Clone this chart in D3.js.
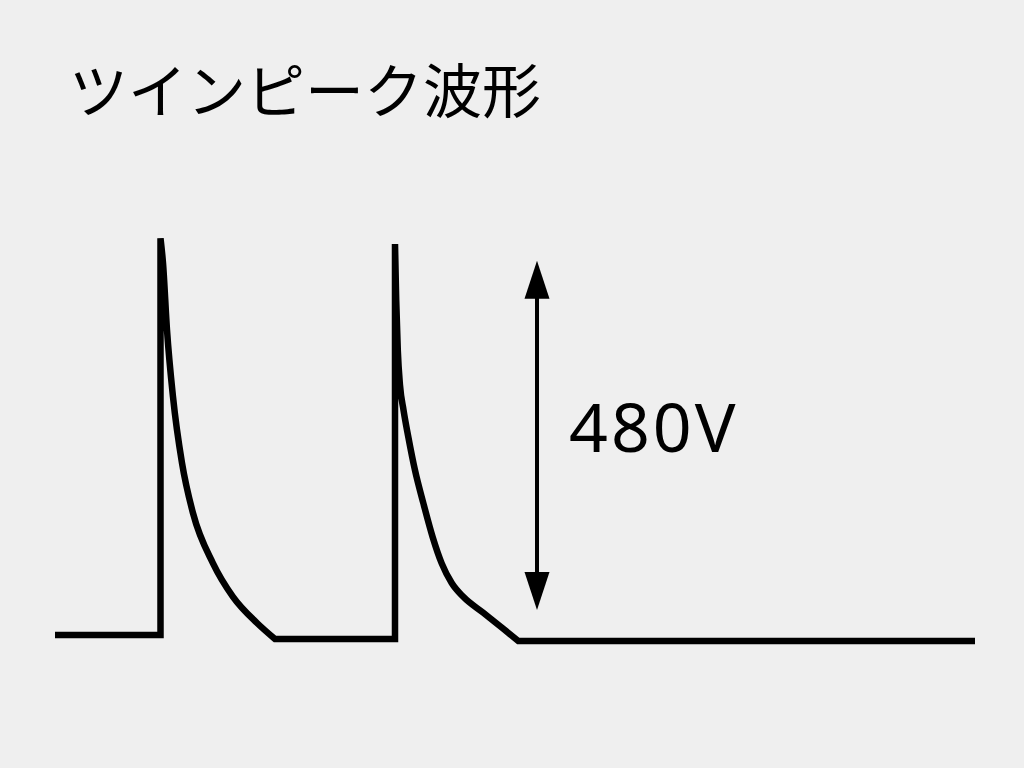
<!DOCTYPE html>
<html>
<head>
<meta charset="utf-8">
<script src="https://cdn.jsdelivr.net/npm/d3@7"></script>
<style>
  html, body { margin: 0; padding: 0; background: #efefef; }
  svg { display: block; }
</style>
</head>
<body>
<div id="chart"></div>
<script>
// waveform data: time (arbitrary units) and voltage (V)
var leadT  = [0, 10.55, 10.55];
var leadV  = [5.5, 5.5, 551];
var peak1T = [10.55, 10.8, 11.2, 11.8, 12.7, 13.8, 15.8, 17.8, 20.2, 22.0];
var peak1V = [551, 517, 425, 333, 242, 173, 104, 58, 22, 0];
var gapT   = [22.0, 34.0, 34.0];
var gapV   = [0, 0, 543];
var peak2T = [34.0, 34.12, 34.28, 34.5, 34.85, 35.33, 36.0, 36.83, 37.77, 38.67, 39.67, 40.83, 42.83, 44.83, 46.33];
var peak2V = [543, 466, 397, 349, 315, 278, 232, 187, 140, 104, 77, 58, 36, 14, -2.75];
var tailT  = [46.33, 92];
var tailV  = [-2.75, -2.75];

// amplitude marker
var arrowT = 48.2;
var arrowV = [40, 520];

var title = "ツインピーク波形";

var svgWidth = 1024;
var svgHeight = 768;

var svg = d3.select("#chart")
  .append("svg")
  .attr("width", svgWidth)
  .attr("height", svgHeight);

svg.append("rect")
  .attr("width", svgWidth)
  .attr("height", svgHeight)
  .attr("fill", "#efefef");

var xScale = d3.scaleLinear().domain([0, 92]).range([55, 975]);
var yScale = d3.scaleLinear().domain([0, 550]).range([639, 239]);

function zip(ts, vs) {
  return ts.map(function(t, i) { return [t, vs[i]]; });
}

var straight = d3.line()
  .x(d => xScale(d[0]))
  .y(d => yScale(d[1]))
  .curve(d3.curveLinear);

var smooth = d3.line()
  .x(d => xScale(d[0]))
  .y(d => yScale(d[1]))
  .curve(d3.curveMonotoneX);

// join segments into one path so the corners get proper joins
var segments = [
  straight(zip(leadT, leadV)),
  smooth(zip(peak1T, peak1V)),
  straight(zip(gapT, gapV)),
  smooth(zip(peak2T, peak2V)),
  straight(zip(tailT, tailV))
];
var d = segments.map(function(s, i) {
  return i === 0 ? s : s.replace(/^M[^A-Za-z]*/, "");
}).join("");

svg.append("path")
  .attr("d", d)
  .attr("fill", "none")
  .attr("stroke", "#000")
  .attr("stroke-width", 6.5)
  .attr("stroke-linejoin", "miter");

// double arrow
var ax = xScale(arrowT);
var yTop = yScale(arrowV[1]);
var yBot = yScale(arrowV[0]);
var headLen = 38, headHalf = 12.5;

svg.append("line")
  .attr("x1", ax).attr("x2", ax)
  .attr("y1", yTop + headLen - 2)
  .attr("y2", yBot - headLen + 2)
  .attr("stroke", "#000")
  .attr("stroke-width", 4);

svg.append("path")
  .attr("d", `M${ax},${yTop}L${ax + headHalf},${yTop + headLen}L${ax - headHalf},${yTop + headLen}Z`)
  .attr("fill", "#000");

svg.append("path")
  .attr("d", `M${ax},${yBot}L${ax + headHalf},${yBot - headLen}L${ax - headHalf},${yBot - headLen}Z`)
  .attr("fill", "#000");

svg.append("text")
  .attr("x", ax + 32)
  .attr("y", (yTop + yBot) / 2 + 17)
  .attr("font-family", "'Noto Sans', 'DejaVu Sans', sans-serif")
  .attr("font-size", 68)
  .attr("letter-spacing", 3)
  .attr("fill", "#000")
  .text((arrowV[1] - arrowV[0]) + "V");

svg.append("text")
  .attr("x", 69)
  .attr("y", 113)
  .attr("font-family", "'Noto Sans CJK JP', 'Noto Sans', sans-serif")
  .attr("font-size", 59)
  .attr("fill", "#000")
  .text(title);
</script>
</body>
</html>
